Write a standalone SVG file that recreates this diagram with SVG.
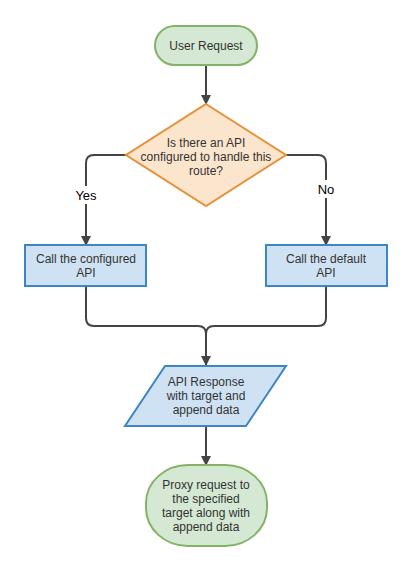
<svg xmlns="http://www.w3.org/2000/svg" width="412" height="572" viewBox="0 0 412 572">
<style>
text{font-family:"Liberation Sans",Arial,sans-serif;font-size:12px;fill:#333;text-anchor:middle}
.term{fill:#d5e8d4;stroke:#82b366;stroke-width:2}
.dec{fill:#fce5cd;stroke:#e69138;stroke-width:2}
.proc{fill:#cfe2f3;stroke:#3d85c6;stroke-width:2}
.edge{fill:none;stroke:#444;stroke-width:2}
.lbl{font-size:13px;fill:#000}
</style>
<defs>
<marker id="arr" markerWidth="10" markerHeight="10" refX="9" refY="5" orient="auto" markerUnits="userSpaceOnUse">
<path d="M0,0 L10,5 L0,10 Z" fill="#444"/>
</marker>
</defs>
<g id="connectors">
<path class="edge" d="M206 65 V104" marker-end="url(#arr)"/>
<path class="edge" d="M126 155 H94 Q86 155 86 163 V245" marker-end="url(#arr)"/>
<path class="edge" d="M286 155 H318 Q326 155 326 163 V245" marker-end="url(#arr)"/>
<path class="edge" d="M86 286 V318 Q86 326 94 326 H198 Q206 326 206 334 V365" marker-end="url(#arr)"/>
<path class="edge" d="M326 286 V318 Q326 326 318 326 H214 Q206 326 206 334"/>
<path class="edge" d="M206 426 V465" marker-end="url(#arr)"/>
<rect x="72" y="186" width="28" height="18" fill="#fff"/>
<text class="lbl" x="86" y="200">Yes</text>
<rect x="314" y="180" width="24" height="18" fill="#fff"/>
<text class="lbl" x="326" y="194">No</text>
</g>
<g id="user-request">
<rect class="term" x="155" y="26" width="102" height="39" rx="19.5"/>
<text x="206" y="49.5">User Request</text>
</g>
<g id="decision">
<path class="dec" d="M206 104 L286 155 L206 206 L126 155 Z"/>
<text x="206" y="147">Is there an API</text>
<text x="206" y="161">configured to handle this</text>
<text x="206" y="175">route?</text>
</g>
<g id="call-configured">
<rect class="proc" x="25" y="245" width="121" height="41"/>
<text x="86" y="263">Call the configured</text>
<text x="86" y="277">API</text>
</g>
<g id="call-default">
<rect class="proc" x="266" y="245" width="121" height="41"/>
<text x="326" y="263">Call the default</text>
<text x="326" y="277">API</text>
</g>
<g id="api-response">
<path class="proc" d="M165 366 H286 L246 426 H125 Z"/>
<text x="206" y="386">API Response</text>
<text x="206" y="400">with target and</text>
<text x="206" y="414">append data</text>
</g>
<g id="proxy-request">
<rect class="term" x="146" y="465" width="121" height="81" rx="42" ry="38"/>
<text x="206" y="489">Proxy request to</text>
<text x="206" y="503">the specified</text>
<text x="206" y="517">target along with</text>
<text x="206" y="531">append data</text>
</g>
</svg>
